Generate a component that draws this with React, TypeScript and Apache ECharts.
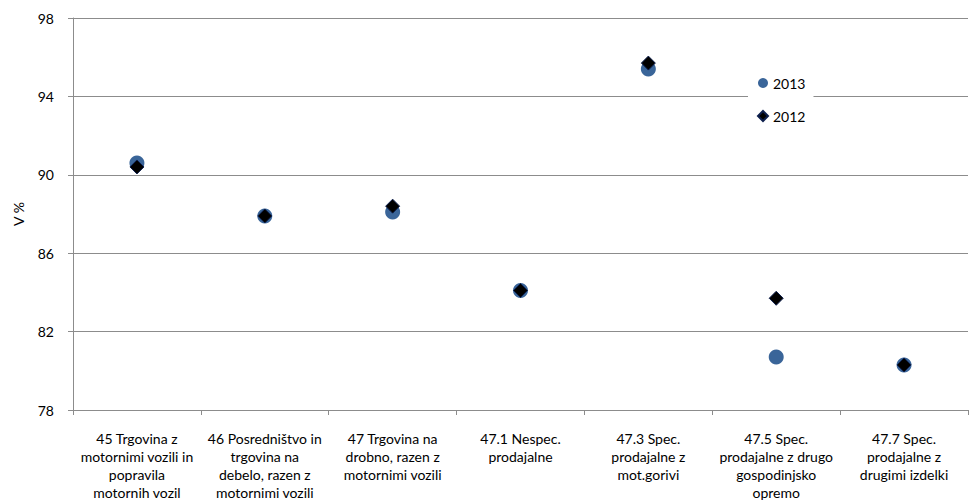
import React, { useEffect, useRef } from "react";
import * as echarts from "echarts";

const categories = [
  "45 Trgovina z\nmotornimi vozili in\npopravila\nmotornih vozil",
  "46 Posredništvo in\ntrgovina na\ndebelo, razen z\nmotornimi vozili",
  "47 Trgovina na\ndrobno, razen z\nmotornimi vozili",
  "47.1 Nespec.\nprodajalne",
  "47.3 Spec.\nprodajalne z\nmot.gorivi",
  "47.5 Spec.\nprodajalne z drugo\ngospodinjsko\nopremo",
  "47.7 Spec.\nprodajalne z\ndrugimi izdelki",
];
const values2013 = [90.6, 87.9, 88.1, 84.1, 95.4, 80.7, 80.3];
const values2012 = [90.4, 87.9, 88.4, 84.1, 95.7, 83.7, 80.3];
const yTicks = { min: 78, max: 98, interval: 4 };

export default function App() {
  const ref = useRef<HTMLDivElement>(null);
  useEffect(() => {
    if (!ref.current) return;
    const chart = echarts.init(ref.current, null, { renderer: "svg" });
    const font = "Lato, 'Open Sans', sans-serif";
    const grey = "#8c8c8c";
    chart.setOption({
      animation: false,
      backgroundColor: "#fff",
      textStyle: { fontFamily: font },
      grid: { left: 73, right: 2, top: 18, bottom: 91, containLabel: false },
      legend: {
        orient: "vertical",
        left: 748,
        top: 70,
        padding: [6, 8, 6, 9],
        backgroundColor: "#fff",
        itemWidth: 10,
        itemHeight: 10,
        itemGap: 19,
        textStyle: { fontSize: 14, color: "#000", fontFamily: font },
        data: [
          { name: "2013", icon: "circle" },
          { name: "2012", icon: "diamond" },
        ],
      },
      xAxis: {
        type: "category",
        data: categories,
        boundaryGap: true,
        axisLine: { lineStyle: { color: grey, width: 1 } },
        axisTick: { show: true, length: 5, lineStyle: { color: grey } },
        axisLabel: {
          interval: 0,
          fontSize: 14,
          lineHeight: 18,
          color: "#000",
          margin: 19,
          fontFamily: font,
          align: "center",
        },
        splitLine: { show: false },
      },
      yAxis: {
        type: "value",
        min: yTicks.min,
        max: yTicks.max,
        interval: yTicks.interval,
        name: "V %",
        nameLocation: "middle",
        nameGap: 48,
        nameRotate: 90,
        nameTextStyle: { fontSize: 14, color: "#000", fontFamily: font },
        axisLine: { show: true, lineStyle: { color: grey, width: 1 } },
        axisTick: { show: true, length: 5, inside: false, lineStyle: { color: grey } },
        axisLabel: { fontSize: 14, color: "#000", margin: 19, fontFamily: font },
        splitLine: { show: true, lineStyle: { color: grey, width: 1 } },
      },
      series: [
        {
          name: "2013",
          type: "scatter",
          data: values2013,
          symbol: "circle",
          symbolSize: 15,
          itemStyle: { color: "#3a6599", opacity: 1 },
          z: 2,
        },
        {
          name: "2012",
          type: "scatter",
          data: values2012,
          symbol: "diamond",
          symbolSize: 14,
          itemStyle: { color: "#000000", borderColor: "#0d1f4d", borderWidth: 1, opacity: 1 },
          z: 3,
        },
      ],
    });
    return () => chart.dispose();
  }, []);
  return (
    <div
      ref={ref}
      style={{ position: "fixed", left: 0, top: 0, width: 970, height: 501 }}
    />
  );
}
